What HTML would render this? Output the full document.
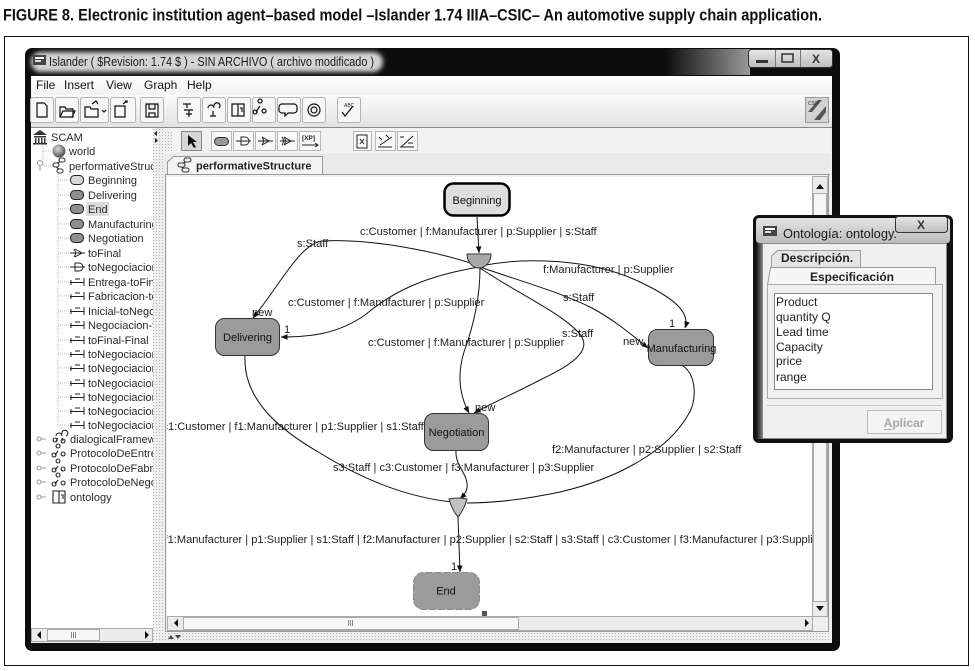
<!DOCTYPE html>
<html><head><meta charset="utf-8">
<style>
html,body{margin:0;padding:0;background:#fff;}
svg{display:block;}
text{font-family:"Liberation Sans",Arial,sans-serif;}
</style></head><body>
<svg width="975" height="671" viewBox="0 0 975 671" xmlns="http://www.w3.org/2000/svg">
<defs>
 <marker id="ar" viewBox="0 0 10 10" refX="9.5" refY="5" markerWidth="7" markerHeight="7" orient="auto" markerUnits="userSpaceOnUse"><path d="M0,1 L10,5 L0,9 z" fill="#111"/></marker>
 <filter id="blur" x="-20%" y="-60%" width="140%" height="220%"><feGaussianBlur stdDeviation="2.5"/></filter>
 <linearGradient id="menuG" x1="0" y1="0" x2="0" y2="1"><stop offset="0" stop-color="#fdfdfd"/><stop offset="1" stop-color="#f3f3f3"/></linearGradient>
 <linearGradient id="tbG" x1="0" y1="0" x2="0" y2="1"><stop offset="0" stop-color="#fbfbfb"/><stop offset="1" stop-color="#e2e2e2"/></linearGradient>
 <linearGradient id="trg" x1="0" x2="1"><stop offset="0" stop-color="#0d0d0d"/><stop offset="1" stop-color="#9a9a9a"/></linearGradient>
 <linearGradient id="btnG" x1="0" y1="0" x2="0" y2="1"><stop offset="0" stop-color="#e6e6e6"/><stop offset="1" stop-color="#bdbdbd"/></linearGradient>
 <linearGradient id="dlgT" x1="0" y1="0" x2="0" y2="1"><stop offset="0" stop-color="#e4e4e4"/><stop offset="1" stop-color="#bcbcbc"/></linearGradient>
 <linearGradient id="dlgL" x1="0" x2="1"><stop offset="0" stop-color="#111"/><stop offset="1" stop-color="#777"/></linearGradient>
 <radialGradient id="globe" cx="0.4" cy="0.35" r="0.7"><stop offset="0" stop-color="#ddd"/><stop offset="1" stop-color="#444"/></radialGradient>
 <pattern id="dots" width="3" height="3" patternUnits="userSpaceOnUse"><rect width="3" height="3" fill="#eeeeee"/><rect width="1" height="1" fill="#b5b5b5"/></pattern>
 <clipPath id="cc"><rect x="167" y="177" width="645" height="439"/></clipPath>
 <clipPath id="tc"><rect x="31" y="128" width="122" height="500"/></clipPath>
</defs>

<!-- caption -->
<text x="3" y="20.5" font-size="16.5" font-weight="bold" fill="#111" textLength="819" lengthAdjust="spacingAndGlyphs">FIGURE 8. Electronic institution agent–based model –Islander 1.74 IIIA–CSIC– An automotive supply chain application.</text>
<rect x="4.5" y="36.5" width="964" height="629" fill="none" stroke="#111"/>

<!-- main window frame -->
<rect x="25" y="48" width="815" height="603" rx="7" fill="#0d0d0d"/>
<rect x="665" y="49" width="85" height="26" fill="url(#trg)"/>
<rect x="31" y="52" width="352" height="20" rx="10" fill="#d4d4d4" filter="url(#blur)"/>
<rect x="33" y="55" width="13" height="10" fill="#444"/><rect x="35" y="57" width="9" height="2" fill="#fff"/><rect x="35" y="60" width="6" height="2" fill="#ddd"/>
<text x="49" y="66" font-size="12.5" fill="#1a1a1a" textLength="325" lengthAdjust="spacingAndGlyphs">Islander ( $Revision: 1.74 $ ) - SIN ARCHIVO ( archivo modificado )</text>
<rect x="748.5" y="49.5" width="84" height="18" rx="3" fill="url(#btnG)" stroke="#333"/>
<line x1="775.5" y1="50" x2="775.5" y2="67" stroke="#777"/>
<line x1="800.5" y1="50" x2="800.5" y2="67" stroke="#777"/>
<rect x="756" y="60" width="12" height="3" fill="#333"/>
<rect x="782" y="54" width="11" height="8" fill="none" stroke="#333" stroke-width="1.5"/>
<text x="816" y="63" font-size="12" font-weight="bold" fill="#333" text-anchor="middle">X</text>

<!-- client -->
<rect x="31" y="76" width="801" height="567" fill="#efefef"/>
<rect x="31" y="76" width="801" height="19" fill="url(#menuG)"/>
<g font-size="12" fill="#111">
<text x="36" y="89">File</text><text x="64" y="89">Insert</text><text x="106" y="89">View</text><text x="144" y="89">Graph</text><text x="187" y="89">Help</text>
</g>
<rect x="31" y="95" width="801" height="32" fill="url(#tbG)"/>
<line x1="31" y1="127.5" x2="832" y2="127.5" stroke="#8a8a8a"/>
<g fill="#f7f7f7" stroke="#b3b3b3">
<rect x="30.5" y="97.5" width="23" height="25" rx="2"/>
<rect x="55.5" y="97.5" width="23" height="25" rx="2"/>
<rect x="80.5" y="97.5" width="28" height="25" rx="2"/>
<rect x="110.5" y="97.5" width="25" height="25" rx="2"/>
<rect x="140.5" y="97.5" width="23" height="25" rx="2"/>
<rect x="177.5" y="97.5" width="23" height="25" rx="2"/>
<rect x="202.5" y="97.5" width="23" height="25" rx="2"/>
<rect x="227.5" y="97.5" width="23" height="25" rx="2"/>
<rect x="252.5" y="97.5" width="23" height="25" rx="2"/>
<rect x="277.5" y="97.5" width="23" height="25" rx="2"/>
<rect x="302.5" y="97.5" width="23" height="25" rx="2"/>
<rect x="337.5" y="97.5" width="23" height="25" rx="2"/>
</g>
<g fill="none" stroke="#111" stroke-width="1.2">
<path d="M37,103 h7 l3,3 v11 h-10 z"/>
<path d="M60,117 v-10 h5 l1,2 h7 v8 z M60,117 l3,-6 h12 l-3,6"/>
<path d="M85,117 v-10 h5 l1,2 h7 v8 z M92,104 l4,-3 l2,3"/><path d="M102,110 l2,2 l2,-2" />
<path d="M115,106 h10 v11 h-10 z M123,104 l4,-3 M125,101 h2 v2"/>
<path d="M146,104 h12 v13 h-12 z M149,104 v5 h6 v-5 M149,117 v-4 h6 v4"/>
<path d="M183,104 h8 M187,104 v4 M184,110 h9 M186,114 h6 M189,110 v7"/>
<path d="M208,108 a3,3 0 1 1 6,0 M214,106 a3,3 0 1 1 5,2 M213,111 v5 M210,116 h6"/>
<path d="M232,104 h6 v12 h-6 z M238,104 h6 v12 h-6 M240,108 h2 v4"/>
<path d="M260,103 a2,2 0 1 1 0.1,0 M260,106 l-4,6 M255,114 a2,2 0 1 1 0.1,0 M264,113 a2,2 0 1 1 0.1,0"/>
<path d="M282,104 h12 a3,3 0 0 1 3,3 v3 a3,3 0 0 1 -3,3 h-6 l-3,3 v-3 h-3 a3,3 0 0 1 -3,-3 v-3 a3,3 0 0 1 3,-3"/>
<circle cx="314" cy="110" r="6"/><circle cx="314" cy="110" r="3"/>
<path d="M342,112 l3,4 l8,-10"/>
</g>
<text x="344" y="107" font-size="5" fill="#222">ABC</text>
<rect x="805.5" y="97.5" width="23" height="25" fill="#d2d2d2" stroke="#999"/>
<path d="M808,112 l10,-12 h4 l-10,12 z M814,120 l12,-14 v6 l-6,8 z" fill="#555"/>
<text x="808" y="105" font-size="5" fill="#333">CSP</text>

<!-- tree panel -->
<rect x="31" y="128" width="122" height="500" fill="#fff"/>
<g clip-path="url(#tc)">
<g stroke="#b8b8b8" stroke-dasharray="1,1" fill="none">
<path d="M43,142 V151 H52 M43,151 V166 H52"/>
<path d="M58,172 V425"/>
<path d="M58,180H70 M58,195H70 M58,209H70 M58,224H70 M58,238H70 M58,253H70 M58,267H70 M58,282H70 M58,296H70 M58,311H70 M58,325H70 M58,340H70 M58,354H70 M58,368H70 M58,383H70 M58,397H70 M58,411H70 M58,425H70"/>
</g>
<!-- icons -->
<path d="M33,135 L40,130 L47,135 Z" fill="#333"/><rect x="34" y="136" width="12" height="1.5" fill="#333"/>
<g fill="#333"><rect x="35" y="138" width="1.5" height="5"/><rect x="38" y="138" width="1.5" height="5"/><rect x="41" y="138" width="1.5" height="5"/><rect x="44" y="138" width="1.5" height="5"/></g>
<rect x="33" y="143" width="14" height="1.5" fill="#333"/>
<circle cx="59" cy="151" r="6.5" fill="url(#globe)"/>
<g fill="none" stroke="#333" stroke-width="1.1"><rect x="59" y="158" width="6" height="4" rx="2"/><rect x="53" y="163" width="6" height="4" rx="2"/><rect x="57" y="169" width="6" height="4" rx="2"/><path d="M60,162 L57,163 M56,167 L59,169"/></g>
<circle cx="40" cy="163" r="2.5" fill="none" stroke="#999"/><path d="M40,165.5 V171" stroke="#999"/>
<g stroke="#222" stroke-width="1">
<rect x="70.5" y="175.5" width="13" height="9" rx="4" fill="#d8d8d8"/>
<rect x="70.5" y="190.5" width="13" height="9" rx="4" fill="#8e8e8e"/>
<rect x="70.5" y="204.5" width="13" height="9" rx="4" fill="#8e8e8e"/>
<rect x="70.5" y="219.5" width="13" height="9" rx="4" fill="#8e8e8e"/>
<rect x="70.5" y="233.5" width="13" height="9" rx="4" fill="#8e8e8e"/>
</g>
<g fill="none" stroke="#222" stroke-width="1">
<path d="M70,253 H85 M75,249 L82,253 L75,257 M74,249 Q77,253 74,257"/>
<path d="M70,267 H85 M75,263 H79 A4,4 0 0 1 79,271 H75 Z"/>
</g>
<g fill="none" stroke="#222" stroke-width="1">
<path d="M70,282.5H84 M84,278V286 M71,280V285 M75,279h5"/>
<path d="M70,296.5H84 M84,292V300 M71,294V299 M75,293h5"/>
<path d="M70,311.5H84 M84,307V315 M71,309V314 M75,308h5"/>
<path d="M70,325.5H84 M84,321V329 M71,323V328 M75,322h5"/>
<path d="M70,340.5H84 M84,336V344 M71,338V343 M75,337h5"/>
<path d="M70,354.5H84 M84,350V358 M71,352V357 M75,351h5"/>
<path d="M70,368.5H84 M84,364V372 M71,366V371 M75,365h5"/>
<path d="M70,383.5H84 M84,379V387 M71,381V386 M75,380h5"/>
<path d="M70,397.5H84 M84,393V401 M71,395V400 M75,394h5"/>
<path d="M70,411.5H84 M84,407V415 M71,409V414 M75,408h5"/>
<path d="M70,425.5H84 M84,421V429 M71,423V428 M75,422h5"/>
</g>
<g fill="none" stroke="#999"><circle cx="39" cy="439" r="2"/><path d="M41,439h5"/><circle cx="39" cy="453" r="2"/><path d="M41,453h5"/><circle cx="39" cy="468" r="2"/><path d="M41,468h5"/><circle cx="39" cy="482" r="2"/><path d="M41,482h5"/><circle cx="39" cy="497" r="2"/><path d="M41,497h5"/></g>
<g fill="none" stroke="#222" stroke-width="1.1">
<path d="M56,436 a3,3 0 1 1 6,0 M62,434 a3,3 0 1 1 4,2 M55,442 a2,2 0 1 1 0.1,0 M63,443 a2,2 0 1 1 0.1,0 M58,438 l-2,3 M62,438 l1,3"/>
<path d="M58,448 a2,2 0 1 1 0.1,0 M58,451 l-3,4 M54,457 a2,2 0 1 1 0.1,0 M63,456 a2,2 0 1 1 0.1,0"/>
<path d="M58,463 a2,2 0 1 1 0.1,0 M58,466 l-3,4 M54,472 a2,2 0 1 1 0.1,0 M63,471 a2,2 0 1 1 0.1,0"/>
<path d="M58,477 a2,2 0 1 1 0.1,0 M58,480 l-3,4 M54,486 a2,2 0 1 1 0.1,0 M63,485 a2,2 0 1 1 0.1,0"/>
<path d="M53,491 h6 v12 h-6 z M59,491 h6 v12 h-6 M61,495 h2 v4"/>
</g>
<rect x="86" y="202" width="23" height="14" fill="#dcdcdc"/>
<g font-size="11" fill="#2a2a2a">
<text x="51" y="141">SCAM</text>
<text x="69" y="155">world</text>
<text x="69" y="170">performativeStructure</text>
<text x="88" y="184">Beginning</text>
<text x="88" y="199">Delivering</text>
<text x="88" y="213">End</text>
<text x="88" y="228">Manufacturing</text>
<text x="88" y="242">Negotiation</text>
<text x="88" y="257">toFinal</text>
<text x="88" y="271">toNegociacion</text>
<text x="88" y="286">Entrega-toFinal</text>
<text x="88" y="300">Fabricacion-toNegociacion</text>
<text x="88" y="315">Inicial-toNegociacion</text>
<text x="88" y="329">Negociacion-toFinal</text>
<text x="88" y="344">toFinal-Final</text>
<text x="88" y="358">toNegociacion-Delivering</text>
<text x="88" y="372">toNegociacion-Manufacturing</text>
<text x="88" y="387">toNegociacion-Negotiation</text>
<text x="88" y="401">toNegociacion-Negotiation</text>
<text x="88" y="415">toNegociacion-Delivering</text>
<text x="88" y="429">toNegociacion-Manufacturing</text>
<text x="70" y="443">dialogicalFramework</text>
<text x="70" y="457">ProtocoloDeEntrega</text>
<text x="70" y="472">ProtocoloDeFabricacion</text>
<text x="70" y="486">ProtocoloDeNegociacion</text>
<text x="70" y="501">ontology</text>
</g>
</g>
<!-- tree h-scrollbar -->
<rect x="31.5" y="628.5" width="121" height="13" fill="#ececec" stroke="#aaa"/>
<rect x="47.5" y="629.5" width="52" height="11" fill="#f7f7f7" stroke="#aaa"/>
<path d="M41,631 L37,635 L41,639 Z M145,631 L149,635 L145,639 Z" fill="#111"/>
<path d="M71.5,632v6 M73.5,632v6 M75.5,632v6" stroke="#888"/>

<!-- divider -->
<rect x="153" y="128" width="10" height="514" fill="url(#dots)"/>
<path d="M157,131 L154,133.5 L157,136 Z M155,138 L158,140.5 L155,143 Z" fill="#222"/>

<!-- editor toolbar -->
<rect x="163" y="128" width="667" height="25" fill="#f2f2f2"/>
<rect x="165" y="131" width="7" height="20" fill="url(#dots)"/>
<rect x="181.5" y="131.5" width="20" height="19" fill="#d6d6d6" stroke="#888"/>
<path d="M188,135 L188,146 L191,143 L194,148 L196,147 L193,142 L197,142 Z" fill="#111"/>
<g fill="#f8f8f8" stroke="#b8b8b8">
<rect x="211.5" y="131.5" width="20" height="19"/>
<rect x="233.5" y="131.5" width="20" height="19"/>
<rect x="255.5" y="131.5" width="20" height="19"/>
<rect x="277.5" y="131.5" width="20" height="19"/>
<rect x="299.5" y="131.5" width="21" height="19"/>
<rect x="353.5" y="131.5" width="18" height="19"/>
<rect x="375.5" y="131.5" width="20" height="19"/>
<rect x="397.5" y="131.5" width="20" height="19"/>
</g>
<rect x="214.5" y="137.5" width="14" height="8" rx="4" fill="#999" stroke="#333"/>
<g fill="none" stroke="#222">
<path d="M236,141 H251 M241,137 H245 A4,4 0 0 1 245,145 H241 Z"/>
<path d="M258,141 H273 M262,137 L269,141 L262,145 Q265,141 262,137"/>
<path d="M280,141 H295 M284,137 L291,141 L284,145 Q287,141 284,137 M282,137 Q285,141 282,145"/>
<path d="M302,145 H318 M315,143 L318,145 L315,147"/>
<path d="M357,135 h10 v13 h-10 z M360,139 l4,5 M364,139 l-4,5"/>
<path d="M379,137 l3,3 M386,135 l3,3 M380,145 l12,-8 M378,147 h14"/>
<path d="M401,147 l12,-11 M400,137 h4 M408,143 h5 M400,147 h14"/>
</g>
<text x="302" y="140" font-size="6.5" font-weight="bold" fill="#222">[XP]</text>

<!-- tab row -->
<rect x="163" y="153" width="667" height="22" fill="#ebebeb"/>
<path d="M167.5,175 L167.5,162 L173.5,156.5 L322.5,156.5 L322.5,175" fill="#f4f4f4" stroke="#999"/>
<g fill="none" stroke="#333" stroke-width="1.1"><rect x="184" y="158" width="7" height="4" rx="2"/><rect x="178" y="163" width="7" height="4" rx="2"/><rect x="182" y="168" width="7" height="4" rx="2"/><path d="M186,162 L183,163 M181,167 L184,168"/></g>
<text x="196" y="169.5" font-size="11" font-weight="bold" fill="#222">performativeStructure</text>
<path d="M322,174.5 H830" stroke="#999"/>
<rect x="165.5" y="174.5" width="663" height="457" fill="#f0f0f0" stroke="#999"/>

<!-- canvas -->
<rect x="167" y="177" width="645" height="439" fill="#fff"/>
<g clip-path="url(#cc)">
<g fill="none" stroke="#111" stroke-width="1">
<path d="M477,217 L479,253" marker-end="url(#ar)"/>
<path d="M479,266 C440,252 370,238 322,241 C300,244 282,282 253,318" marker-end="url(#ar)"/>
<path d="M479,267 C425,276 392,292 365,315 C338,334 310,337 281,337" marker-end="url(#ar)"/>
<path d="M480,268 C480,300 472,330 464,352 C456,378 461,398 469,413" marker-end="url(#ar)"/>
<path d="M480,268 C515,292 560,312 579,333 C596,352 565,368 538,381 C515,393 492,403 474,413" marker-end="url(#ar)"/>
<path d="M480,267 C520,281 560,292 592,308 C616,321 633,336 648,348" marker-end="url(#ar)"/>
<path d="M480,266 C525,257 590,258 640,282 C676,299 690,313 685,328" marker-end="url(#ar)"/>
<path d="M245,356 C243,400 280,430 320,453 C360,478 405,497 452,502"/>
<path d="M456,451 C455,466 469,475 467,488 C466,494 462,497 460,499" marker-end="url(#ar)"/>
<path d="M683,366 C697,375 697,402 688,415 C668,450 620,478 560,492 C522,500 490,503 467,503"/>
<path d="M458,517 L460,572" marker-end="url(#ar)"/>
</g>
<!-- gates -->
<path d="M467,254 L491,254 A12,14 0 0 1 467,254 Z" fill="#a9a9a9" stroke="#333"/>
<path d="M449,499 Q458,497 467,499 Q464,510 458,517 Q452,510 449,499 Z" fill="#c2c2c2" stroke="#333"/>
<!-- nodes -->
<rect x="444.5" y="183.5" width="65" height="32" rx="9" fill="#dedede" stroke="#000" stroke-width="2.5"/>
<rect x="215.5" y="318.5" width="64" height="37" rx="9" fill="#9b9b9b" stroke="#333"/>
<rect x="424.5" y="413.5" width="64" height="37" rx="9" fill="#9b9b9b" stroke="#333"/>
<rect x="648.5" y="329.5" width="65" height="36" rx="9" fill="#9b9b9b" stroke="#333"/>
<rect x="413.5" y="572.5" width="66" height="37" rx="10" fill="#9b9b9b" stroke="#888"/>
<rect x="413.5" y="572.5" width="66" height="37" rx="10" fill="none" stroke="#ccc" stroke-dasharray="2,7"/>
<rect x="482" y="611" width="5" height="6" fill="#555"/>
<g font-size="11" fill="#111" text-anchor="middle">
<text x="477" y="204">Beginning</text>
<text x="247.5" y="341">Delivering</text>
<text x="456.5" y="436">Negotiation</text>
<text x="681.5" y="352">Manufacturing</text>
<text x="446" y="594.5">End</text>
</g>
<!-- edge labels -->
<g font-size="11.1" fill="#1e1e1e">
<text x="360" y="235">c:Customer | f:Manufacturer | p:Supplier | s:Staff</text>
<text x="297" y="247">s:Staff</text>
<text x="543" y="273">f:Manufacturer | p:Supplier</text>
<text x="288" y="306">c:Customer | f:Manufacturer | p:Supplier</text>
<text x="563" y="301">s:Staff</text>
<text x="368" y="346">c:Customer | f:Manufacturer | p:Supplier</text>
<text x="562" y="337">s:Staff</text>
<text x="623" y="345">new</text>
<text x="669" y="327">1</text>
<text x="252" y="316">new</text>
<text x="284" y="333">1</text>
<text x="475" y="411">new</text>
<text x="162.5" y="430">c1:Customer | f1:Manufacturer | p1:Supplier | s1:Staff</text>
<text x="333" y="471">s3:Staff | c3:Customer | f3:Manufacturer | p3:Supplier</text>
<text x="552" y="453">f2:Manufacturer | p2:Supplier | s2:Staff</text>
<text x="451" y="570">1</text>
<text x="164.5" y="543">f1:Manufacturer | p1:Supplier | s1:Staff | f2:Manufacturer | p2:Supplier | s2:Staff | s3:Staff | c3:Customer | f3:Manufacturer | p3:Supplier</text>
</g>
</g>

<!-- canvas scrollbars -->
<rect x="812.5" y="176.5" width="15" height="440" fill="#ebebeb" stroke="#aaa"/>
<rect x="813.5" y="193.5" width="13" height="408" fill="#f6f6f6" stroke="#aaa"/>
<path d="M816,189 L820,184 L824,189 Z M816,606 L824,606 L820,611 Z" fill="#111"/>
<rect x="167.5" y="616.5" width="645" height="14" fill="#ebebeb" stroke="#aaa"/>
<rect x="183.5" y="617.5" width="335" height="12" fill="#f6f6f6" stroke="#aaa"/>
<path d="M178,619 L174,623 L178,627 Z M805,619 L809,623 L805,627 Z" fill="#111"/>
<path d="M348.5,620v6 M350.5,620v6 M352.5,620v6" stroke="#888"/>
<rect x="813" y="617" width="15" height="14" fill="#efefef"/>
<rect x="163" y="632" width="667" height="10" fill="url(#dots)"/>
<path d="M168,639 L171,635 L174,639 Z M175,635 L181,635 L178,639 Z" fill="#444"/>

<!-- ontology dialog -->
<rect x="753" y="215" width="200" height="228" rx="6" fill="#111"/>
<rect x="756" y="218" width="194" height="25" rx="3" fill="url(#dlgT)"/>
<rect x="756" y="243" width="6" height="196" fill="url(#dlgL)"/>
<rect x="763" y="226" width="14" height="10" fill="#444"/><rect x="765" y="228" width="10" height="2" fill="#fff"/><rect x="765" y="231" width="6" height="2" fill="#ddd"/>
<text x="783" y="238" font-size="12.8" fill="#1a1a1a" textLength="114" lengthAdjust="spacingAndGlyphs">Ontología: ontology.</text>
<rect x="895.5" y="216.5" width="52" height="16" rx="3" fill="url(#btnG)" stroke="#333"/>
<text x="921" y="229" font-size="12" font-weight="bold" fill="#333" text-anchor="middle">X</text>
<rect x="762.5" y="243.5" width="184" height="195" fill="#f0f0f0" stroke="#8a8a8a"/>
<path d="M771.5,267 L771.5,256 L777.5,250.5 L860.5,250.5 L860.5,267" fill="#e4e4e4" stroke="#999"/>
<text x="781" y="262" font-size="12" font-weight="bold" fill="#222">Descripción.</text>
<path d="M767.5,285 L770.5,267.5 L935.5,267.5 L935.5,285" fill="#f5f5f5" stroke="#999"/>
<text x="852" y="281" font-size="12" font-weight="bold" fill="#222" text-anchor="middle">Especificación</text>
<rect x="767.5" y="284.5" width="175" height="114" fill="#f0f0f0" stroke="#aaa"/>
<rect x="774.5" y="293.5" width="158" height="96" fill="#fff" stroke="#888"/>
<g font-size="12" fill="#222">
<text x="776" y="306">Product</text>
<text x="776" y="321">quantity Q</text>
<text x="776" y="336">Lead time</text>
<text x="776" y="351">Capacity</text>
<text x="776" y="365">price</text>
<text x="776" y="381">range</text>
</g>
<line x1="767" y1="405.5" x2="942" y2="405.5" stroke="#c8c8c8"/>
<rect x="867.5" y="410.5" width="74" height="23" fill="#f4f4f4" stroke="#bbb"/>
<text x="904" y="427" font-size="12" font-weight="bold" fill="#a8a8a8" text-anchor="middle">Aplicar</text>
<line x1="884" y1="429.5" x2="892" y2="429.5" stroke="#a8a8a8"/>
</svg>
</body></html>
